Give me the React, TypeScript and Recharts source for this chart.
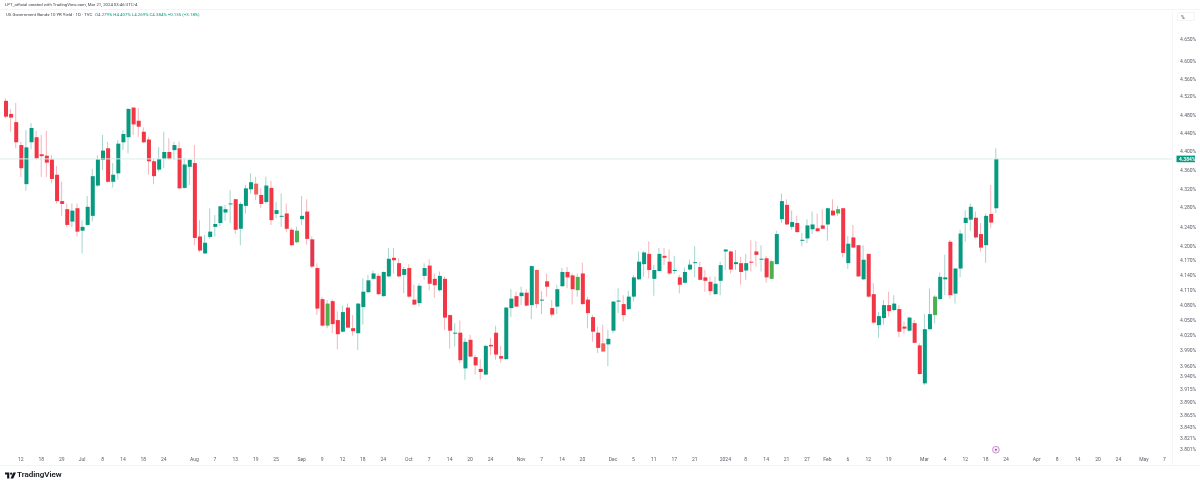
import { BarChart, Bar, Cell, XAxis, YAxis, ReferenceLine, ReferenceDot } from "recharts";

const opens = [
  4.511, 4.482, 4.464, 4.414, 4.33, 4.42, 4.431, 4.394, 4.391, 4.383,
  4.35, 4.294, 4.277, 4.251, 4.279, 4.232, 4.244, 4.263, 4.327, 4.382,
  4.407, 4.335, 4.353, 4.42, 4.431, 4.496, 4.467, 4.443, 4.426, 4.379,
  4.361, 4.384, 4.399, 4.403, 4.407, 4.322, 4.367, 4.375, 4.22, 4.185,
  4.219, 4.24, 4.248, 4.27, 4.287, 4.298, 4.236, 4.284, 4.319, 4.331,
  4.307, 4.292, 4.322, 4.267, 4.261, 4.268, 4.234, 4.208, 4.256, 4.272,
  4.214, 4.155, 4.092, 4.039, 4.088, 4.05, 4.027, 4.075, 4.034, 4.024,
  4.076, 4.106, 4.133, 4.139, 4.098, 4.138, 4.176, 4.165, 4.141, 4.155,
  4.091, 4.084, 4.139, 4.16, 4.133, 4.11, 4.133, 4.06, 4.023, 4.025,
  3.955, 4.011, 3.977, 3.954, 3.943, 4.001, 4.025, 3.979, 3.973, 4.074,
  4.098, 4.098, 4.105, 4.08, 4.151, 4.089, 4.128, 4.074, 4.077, 4.118,
  4.147, 4.14, 4.11, 4.144, 4.091, 4.056, 4.025, 4.004, 4.002, 4.029,
  4.087, 4.082, 4.072, 4.097, 4.132, 4.163, 4.184, 4.133, 4.149, 4.18,
  4.168, 4.149, 4.136, 4.125, 4.152, 4.165, 4.157, 4.136, 4.127, 4.102,
  4.129, 4.189, 4.189, 4.163, 4.165, 4.15, 4.168, 4.189, 4.172, 4.175,
  4.133, 4.163, 4.256, 4.286, 4.24, 4.248, 4.211, 4.216, 4.235, 4.237,
  4.243, 4.245, 4.274, 4.268, 4.279, 4.165, 4.218, 4.202, 4.132, 4.184,
  4.102, 4.04, 4.054, 4.08, 4.07, 4.072, 4.037, 4.029, 4.044, 4.0,
  3.926, 4.032, 4.06, 4.092, 4.132, 4.209, 4.103, 4.154, 4.248, 4.255,
  4.259, 4.225, 4.202, 4.267, 4.279,
];

const highs = [
  4.517, 4.493, 4.506, 4.421, 4.447, 4.462, 4.445, 4.436, 4.445, 4.392,
  4.369, 4.335, 4.289, 4.289, 4.289, 4.254, 4.305, 4.362, 4.392, 4.436,
  4.421, 4.375, 4.425, 4.447, 4.495, 4.497, 4.495, 4.452, 4.432, 4.385,
  4.41, 4.443, 4.429, 4.421, 4.421, 4.385, 4.383, 4.414, 4.254, 4.223,
  4.279, 4.265, 4.285, 4.286, 4.317, 4.299, 4.292, 4.328, 4.353, 4.346,
  4.321, 4.346, 4.337, 4.292, 4.31, 4.289, 4.238, 4.24, 4.305, 4.298,
  4.22, 4.165, 4.097, 4.09, 4.091, 4.067, 4.079, 4.083, 4.06, 4.084,
  4.134, 4.141, 4.15, 4.144, 4.148, 4.196, 4.196, 4.175, 4.157, 4.163,
  4.121, 4.124, 4.165, 4.173, 4.144, 4.148, 4.138, 4.061, 4.044, 4.049,
  4.014, 4.021, 3.981, 3.973, 4.001, 4.015, 4.039, 3.999, 4.076, 4.112,
  4.107, 4.117, 4.112, 4.16, 4.152, 4.108, 4.144, 4.09, 4.121, 4.155,
  4.157, 4.144, 4.144, 4.166, 4.097, 4.06, 4.037, 4.041, 4.031, 4.088,
  4.114, 4.1, 4.109, 4.141, 4.189, 4.19, 4.21, 4.161, 4.196, 4.196,
  4.193, 4.18, 4.141, 4.156, 4.172, 4.2, 4.168, 4.151, 4.138, 4.138,
  4.168, 4.194, 4.191, 4.192, 4.178, 4.184, 4.212, 4.21, 4.202, 4.18,
  4.172, 4.232, 4.31, 4.298, 4.274, 4.263, 4.227, 4.256, 4.272, 4.268,
  4.277, 4.28, 4.298, 4.284, 4.28, 4.221, 4.244, 4.203, 4.202, 4.185,
  4.124, 4.066, 4.09, 4.107, 4.1, 4.08, 4.047, 4.057, 4.05, 4.004,
  4.062, 4.114, 4.1, 4.146, 4.182, 4.213, 4.155, 4.234, 4.275, 4.289,
  4.272, 4.248, 4.268, 4.328, 4.407,
];

const lows = [
  4.473, 4.443, 4.407, 4.345, 4.316, 4.405, 4.382, 4.346, 4.345, 4.332,
  4.289, 4.263, 4.239, 4.239, 4.22, 4.185, 4.242, 4.251, 4.324, 4.36,
  4.333, 4.323, 4.34, 4.403, 4.396, 4.436, 4.432, 4.418, 4.35, 4.33,
  4.357, 4.364, 4.382, 4.382, 4.32, 4.32, 4.328, 4.202, 4.188, 4.184,
  4.215, 4.22, 4.242, 4.253, 4.248, 4.225, 4.202, 4.268, 4.31, 4.296,
  4.279, 4.289, 4.244, 4.258, 4.24, 4.23, 4.2, 4.206, 4.244, 4.203,
  4.155, 4.06, 4.037, 4.034, 4.024, 3.992, 4.026, 4.034, 4.019, 3.991,
  4.041, 4.104, 4.131, 4.1, 4.097, 4.136, 4.144, 4.136, 4.104, 4.095,
  4.08, 4.077, 4.131, 4.11, 4.095, 4.107, 4.031, 3.994, 3.998, 3.965,
  3.933, 3.977, 3.943, 3.933, 3.942, 3.981, 3.972, 3.966, 3.972, 4.056,
  4.076, 4.08, 4.077, 4.052, 4.074, 4.062, 4.097, 4.056, 4.062, 4.117,
  4.114, 4.081, 4.097, 4.08, 4.034, 4.007, 3.985, 3.987, 3.959, 4.024,
  4.064, 4.047, 4.07, 4.087, 4.131, 4.138, 4.134, 4.099, 4.148, 4.161,
  4.141, 4.143, 4.104, 4.124, 4.15, 4.136, 4.13, 4.107, 4.1, 4.101,
  4.1, 4.151, 4.144, 4.151, 4.121, 4.131, 4.148, 4.158, 4.148, 4.125,
  4.132, 4.162, 4.248, 4.244, 4.234, 4.228, 4.2, 4.206, 4.225, 4.23,
  4.235, 4.211, 4.263, 4.263, 4.177, 4.153, 4.196, 4.136, 4.131, 4.095,
  4.043, 4.015, 4.041, 4.057, 4.067, 4.016, 4.023, 4.027, 4.004, 3.943,
  3.923, 4.031, 4.044, 4.091, 4.1, 4.093, 4.083, 4.136, 4.209, 4.232,
  4.216, 4.189, 4.166, 4.237, 4.269,
];

const closes = [
  4.476, 4.474, 4.42, 4.364, 4.409, 4.451, 4.385, 4.39, 4.376, 4.341,
  4.294, 4.288, 4.244, 4.274, 4.23, 4.24, 4.282, 4.347, 4.383, 4.402,
  4.335, 4.35, 4.417, 4.438, 4.493, 4.459, 4.454, 4.42, 4.379, 4.347,
  4.384, 4.399, 4.384, 4.414, 4.321, 4.372, 4.382, 4.217, 4.191, 4.207,
  4.23, 4.246, 4.283, 4.277, 4.289, 4.234, 4.288, 4.321, 4.334, 4.308,
  4.288, 4.327, 4.254, 4.275, 4.263, 4.236, 4.202, 4.232, 4.263, 4.215,
  4.158, 4.073, 4.039, 4.083, 4.042, 4.022, 4.066, 4.035, 4.028, 4.083,
  4.107, 4.13, 4.144, 4.102, 4.147, 4.174, 4.171, 4.138, 4.153, 4.097,
  4.081, 4.119, 4.155, 4.123, 4.12, 4.139, 4.055, 4.029, 4.025, 3.971,
  4.007, 3.978, 3.961, 3.948, 3.999, 3.998, 3.982, 3.974, 4.075, 4.093,
  4.077, 4.105, 4.079, 4.159, 4.082, 4.09, 4.117, 4.061, 4.112, 4.147,
  4.136, 4.112, 4.137, 4.082, 4.064, 4.027, 3.995, 3.988, 4.013, 4.087,
  4.088, 4.06, 4.097, 4.136, 4.168, 4.187, 4.151, 4.151, 4.184, 4.176,
  4.144, 4.151, 4.121, 4.147, 4.162, 4.166, 4.131, 4.129, 4.108, 4.123,
  4.161, 4.193, 4.152, 4.167, 4.147, 4.165, 4.166, 4.182, 4.174, 4.136,
  4.169, 4.225, 4.294, 4.245, 4.25, 4.229, 4.213, 4.243, 4.245, 4.231,
  4.236, 4.279, 4.264, 4.277, 4.186, 4.205, 4.197, 4.138, 4.172, 4.097,
  4.045, 4.058, 4.08, 4.068, 4.083, 4.027, 4.033, 4.055, 4.005, 3.944,
  4.032, 4.062, 4.097, 4.137, 4.136, 4.1, 4.154, 4.226, 4.259, 4.282,
  4.218, 4.197, 4.263, 4.249, 4.384,
];

// candles hand-recoloured on the original chart
const limeBars = [57, 63, 112, 150, 163, 182];
const salmonBars = [49, 104, 117];
const darkRedBars = [60, 190];

const TOTAL_BARS = 229;
const LAST_CLOSE = 4.384;
const MARKER_VALUE = 3.8;

const priceTicks = [
  4.65, 4.6, 4.56, 4.52, 4.48, 4.44, 4.4, 4.384, 4.36, 4.32, 4.28, 4.24, 4.2, 4.17, 4.14, 4.11,
  4.08, 4.05, 4.02, 3.99, 3.96, 3.94, 3.915, 3.89, 3.865, 3.843, 3.821, 3.801,
];

const tickBars = [
  3, 7, 11, 15, 19, 23, 27, 31, 37, 41, 45, 49, 53, 58, 62, 66, 70, 74, 79, 83, 87, 91, 95, 101,
  105, 109, 113, 119, 123, 127, 131, 135, 141, 145, 149, 153, 157, 161, 165, 169, 173, 180, 184,
  188, 192, 196, 202, 206, 210, 214, 218, 223, 227,
];
const tickLabels = [
  "12", "18", "29", "Jul", "8", "14", "18", "24", "Aug", "7", "13", "19", "25", "Sep", "9", "12",
  "18", "24", "Oct", "7", "14", "20", "24", "Nov", "7", "14", "20", "Dec", "5", "11", "17", "21",
  "2024", "8", "14", "21", "27", "Feb", "6", "12", "19", "Mar", "4", "12", "18", "24", "Apr", "8",
  "14", "20", "24", "May", "7",
];

const TEAL = "#089981";
const RED = "#f23645";

const rows = Array.from({ length: TOTAL_BARS }, (_, bar) => {
  if (bar >= closes.length) return { bar, wick: null, body: null };
  return {
    bar,
    wick: [lows[bar], highs[bar]],
    body: [Math.min(opens[bar], closes[bar]), Math.max(opens[bar], closes[bar])],
  };
});

function bodyColor(bar: number) {
  if (bar >= closes.length) return "none";
  if (limeBars.includes(bar)) return "#4caf50";
  if (salmonBars.includes(bar)) return "#f0605a";
  if (darkRedBars.includes(bar)) return "#dc3850";
  return closes[bar] >= opens[bar] ? TEAL : RED;
}

function wickColor(bar: number) {
  if (bar >= closes.length) return "none";
  return closes[bar] >= opens[bar] ? "#a3d6ce" : "#f6b4bb";
}

function PriceTick({ x, y, payload }: any) {
  const isLast = payload.value === LAST_CLOSE;
  const label = payload.value.toFixed(3) + "%";
  if (isLast) {
    return (
      <g>
        <rect x={x - 3.5} y={y - 3.3} width={18.5} height={6.6} fill={TEAL} />
        <text x={x - 1} y={y + 1.7} fontSize={5} fontWeight={600} fill="#fff" fontFamily="Roboto">
          {label}
        </text>
      </g>
    );
  }
  return (
    <text x={x} y={y + 1.7} fontSize={5} fill="#5d606b" fontFamily="Roboto">
      {label}
    </text>
  );
}

function Marker({ cx, cy }: any) {
  return (
    <g>
      <circle cx={cx} cy={cy} r={3.4} fill="#f6ecf8" stroke="#b76cc6" strokeWidth={0.7} />
      <circle cx={cx} cy={cy} r={1} fill="#a24bb3" />
    </g>
  );
}

const overlayText = {
  position: "absolute",
  whiteSpace: "nowrap",
  fontFamily: "Roboto",
  color: "#3b3e47",
  lineHeight: 1,
} as const;

export default function App() {
  return (
    <div
      style={{
        position: "absolute",
        left: 0,
        top: 0,
        width: 1200,
        height: 486,
        background: "#fff",
        overflow: "hidden",
        filter: "blur(0.3px)",
      }}
    >
      <div style={{ position: "absolute", left: 0, top: 9, width: 1200, height: 1, background: "#f3f4f7" }} />
      <div style={{ position: "absolute", left: 0, top: 465, width: 1200, height: 1, background: "#f3f4f7" }} />
      <div style={{ position: "absolute", left: 1172, top: 9, width: 1, height: 456, background: "#f6f7f9" }} />

      <BarChart
        width={1200}
        height={486}
        data={rows}
        margin={{ top: 10, right: 0, bottom: 0, left: 0 }}
        barCategoryGap={0}
      >
        <XAxis
          dataKey="bar"
          ticks={tickBars}
          interval={0}
          height={32}
          padding={{ left: 3, right: 0 }}
          axisLine={false}
          tickLine={false}
          tickSize={0}
          tickMargin={3}
          tick={{ fontSize: 5, fill: "#5d606b", fontFamily: "Roboto" }}
          tickFormatter={(bar: number) => tickLabels[tickBars.indexOf(bar)]}
        />
        <XAxis xAxisId="wick" dataKey="bar" hide height={0} padding={{ left: 3, right: 0 }} />
        <YAxis
          orientation="right"
          type="number"
          scale="log"
          domain={[3.792, 4.717]}
          allowDataOverflow
          ticks={priceTicks}
          interval={0}
          width={28}
          axisLine={false}
          tickLine={false}
          tickSize={0}
          tickMargin={8}
          tick={<PriceTick />}
        />
        <ReferenceLine y={LAST_CLOSE} stroke="#d8eeea" strokeWidth={1} />
        <Bar xAxisId="wick" dataKey="wick" barSize={1} isAnimationActive={false}>
          {rows.map((row) => (
            <Cell key={row.bar} fill={wickColor(row.bar)} />
          ))}
        </Bar>
        <Bar dataKey="body" barSize={4} minPointSize={1} isAnimationActive={false}>
          {rows.map((row) => (
            <Cell key={row.bar} fill={bodyColor(row.bar)} />
          ))}
        </Bar>
        <ReferenceDot x={194} y={MARKER_VALUE} r={3.4} shape={<Marker />} />
      </BarChart>

      <div style={{ ...overlayText, left: 5, top: 3, fontSize: 4.3 }}>
        LPT_official created with TradingView.com, Mar 21, 2024 03:46 UTC-4
      </div>
      <div style={{ ...overlayText, left: 6, top: 12.5, fontSize: 4.35 }}>
        US Government Bonds 10 YR Yield · 1D · TVC
      </div>
      <div style={{ ...overlayText, left: 95, top: 12.5, fontSize: 4.4, color: TEAL }}>
        O4.279% H4.407% L4.269% C4.384% +0.135 (+3.18%)
      </div>

      <div
        style={{
          ...overlayText,
          left: 1177,
          top: 11.5,
          width: 18,
          height: 9,
          fontSize: 5,
          border: "1px solid #f3f4f7",
          boxSizing: "border-box",
          paddingTop: 2,
          paddingLeft: 3,
        }}
      >
        %
      </div>

      <svg style={{ position: "absolute", left: 4.5, top: 471.5 }} width={11} height={7} viewBox="0 0 36 20">
        <path d="M0 0H14V20H7V7H0Z" fill="#131722" />
        <circle cx={20} cy={4} r={3.6} fill="#131722" />
        <path d="M27 0H36L27 20H18Z" fill="#131722" />
      </svg>
      <div style={{ ...overlayText, left: 17, top: 471, fontSize: 8, fontWeight: 600, color: "#131722" }}>
        TradingView
      </div>
    </div>
  );
}
